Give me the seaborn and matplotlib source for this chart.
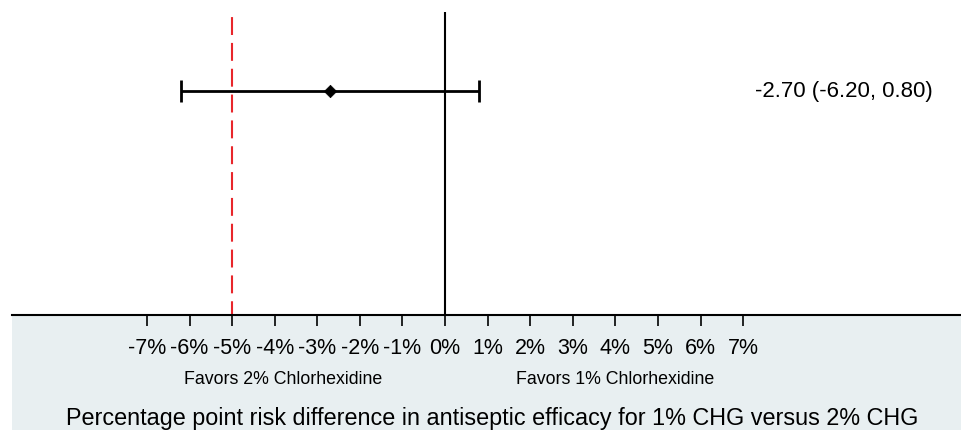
import matplotlib.pyplot as plt
import seaborn as sns
import pandas as pd
from matplotlib.patches import Rectangle

# risk difference (percentage points) with 95% CI
estimate = [-2.70]
ci_low = [-6.20]
ci_high = [0.80]
row_y = [0.74]
margin_ref = -5.0
tick_values = [-7, -6, -5, -4, -3, -2, -1, 0, 1, 2, 3, 4, 5, 6, 7]
tick_labels = [f'{t}%' for t in tick_values]

sns.set_theme(style='white')
plt.rcParams['font.family'] = ['Liberation Sans', 'DejaVu Sans']

W, H = 962, 431
fig = plt.figure(figsize=(W / 100, H / 100), dpi=100)
fig.patch.set_facecolor('white')

# shaded panel below the axis (drawn behind the axes)
fig.patches.append(Rectangle((12 / W, 0), 950 / W, 115 / H, transform=fig.transFigure,
                             facecolor='#e8eff1', edgecolor='none', zorder=-1))

ax = fig.add_axes([12 / W, 115 / H, 950 / W, 303 / H])
ax.set_facecolor('white')
ax.set_xlim(-10.17, 12.14)
ax.set_ylim(0, 1)

df = pd.DataFrame({'est': estimate, 'lo': ci_low, 'hi': ci_high, 'y': row_y})

ax.axvline(0, color='black', lw=1.5, zorder=1)
ax.axvline(margin_ref, color='#e8262b', lw=1.5, ls=(2, (8.6, 3.8)), zorder=1)

ax.errorbar(df['est'], df['y'], xerr=[df['est'] - df['lo'], df['hi'] - df['est']],
            fmt='none', ecolor='black', elinewidth=2, capsize=8, capthick=2, zorder=2)
sns.scatterplot(data=df, x='est', y='y', marker='D', s=40, color='black',
                edgecolor='black', ax=ax, zorder=3, legend=False)

for _, r in df.iterrows():
    ax.text(7.28, r['y'], f"{r['est']:.2f} ({r['lo']:.2f}, {r['hi']:.2f})",
            ha='left', va='center', fontsize=16, color='black')

sns.despine(ax=ax, left=True, top=True, right=True)
ax.spines['bottom'].set_color('black')
ax.spines['bottom'].set_linewidth(1.5)
ax.set_yticks([])
ax.set_xticks(tick_values)
ax.set_xticklabels(tick_labels, fontsize=15.5, color='black')
ax.tick_params(axis='x', bottom=True, direction='out', length=8, width=1.2,
               color='black', pad=7.5)
ax.set_xlabel('')
ax.set_ylabel('')

ax.text(-3.8, -0.21, 'Favors 2% Chlorhexidine', transform=ax.get_xaxis_transform(),
        ha='center', va='center', fontsize=12.8, color='black')
ax.text(4.0, -0.21, 'Favors 1% Chlorhexidine', transform=ax.get_xaxis_transform(),
        ha='center', va='center', fontsize=12.8, color='black')

fig.text(492 / W, 1 - 419 / H,
         'Percentage point risk difference in antiseptic efficacy for 1% CHG versus 2% CHG',
         ha='center', va='center', fontsize=16.8, color='black')

fig.savefig('out.png', dpi=100, facecolor='white')
